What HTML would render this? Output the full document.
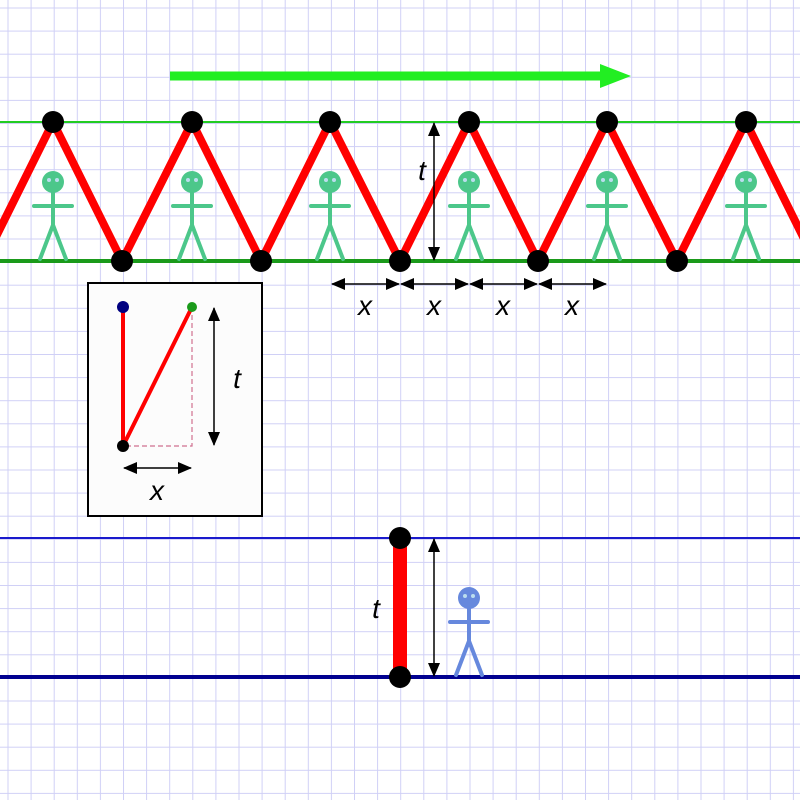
<!DOCTYPE html>
<html><head><style>body{margin:0}svg{display:block}</style></head><body>
<svg width="800" height="800" viewBox="0 0 800 800" xmlns="http://www.w3.org/2000/svg" font-family="Liberation Sans, sans-serif">
<defs>
<pattern id="g" x="7.5" y="7.5" width="23.1" height="23.1" patternUnits="userSpaceOnUse">
<path d="M0 0H23.1M0 0V23.1" stroke="#d0d0f6" stroke-width="2" fill="none"/>
</pattern>
<marker id="a" markerWidth="14" markerHeight="12" refX="13" refY="6" orient="auto-start-reverse" markerUnits="userSpaceOnUse"><path d="M0 0L14 6L0 12z" fill="#000"/></marker>
<g id="fig" stroke-width="4" stroke-linecap="round">
<circle cx="0" cy="-79" r="11" stroke="none"/>
<path d="M0 -70V-36M-19 -55H19M0 -36L-13 -2M0 -36L13 -2" fill="none"/>
<circle cx="-4" cy="-81" r="2" fill="#bde" stroke="none"/><circle cx="4" cy="-81" r="2" fill="#bde" stroke="none"/>
</g>
</defs>
<rect width="800" height="800" fill="#fff"/>
<rect width="800" height="800" fill="url(#g)"/>
<line x1="0" y1="122" x2="800" y2="122" stroke="#22cc22" stroke-width="2"/>
<line x1="0" y1="261" x2="800" y2="261" stroke="#1a9a1a" stroke-width="4"/>
<g fill="#4cc78a" stroke="#4cc78a">
<use href="#fig" x="53" y="261"/><use href="#fig" x="192" y="261"/><use href="#fig" x="330" y="261"/>
<use href="#fig" x="469" y="261"/><use href="#fig" x="607" y="261"/><use href="#fig" x="746" y="261"/>
</g>
<polyline points="-16,261 53,122 122,261 192,122 261,261 330,122 400,261 469,122 538,261 607,122 677,261 746,122 815,261" fill="none" stroke="#f00" stroke-width="8" stroke-linejoin="round"/>
<g fill="#000">
<circle cx="53" cy="122" r="11"/><circle cx="192" cy="122" r="11"/><circle cx="330" cy="122" r="11"/><circle cx="469" cy="122" r="11"/><circle cx="607" cy="122" r="11"/><circle cx="746" cy="122" r="11"/>
<circle cx="122" cy="261" r="11"/><circle cx="261" cy="261" r="11"/><circle cx="400" cy="261" r="11"/><circle cx="538" cy="261" r="11"/><circle cx="677" cy="261" r="11"/>
</g>
<line x1="170" y1="76" x2="605" y2="76" stroke="#22ee22" stroke-width="9"/>
<path d="M600 64L631 76L600 88z" fill="#22ee22"/>
<g stroke="#000" stroke-width="1.5" marker-start="url(#a)" marker-end="url(#a)">
<line x1="434" y1="123" x2="434" y2="260"/>
<line x1="332" y1="284" x2="399" y2="284"/><line x1="401" y1="284" x2="468" y2="284"/>
<line x1="470" y1="284" x2="537" y2="284"/><line x1="539" y1="284" x2="606" y2="284"/>
</g>
<g font-style="italic" font-size="28" text-anchor="middle">
<text x="422" y="180">t</text>
<text x="365" y="315">x</text><text x="434" y="315">x</text><text x="503" y="315">x</text><text x="572" y="315">x</text>
</g>
<rect x="88" y="283" width="174" height="233" fill="#fcfcfc" stroke="#000" stroke-width="2"/>
<path d="M192 307V446H123" fill="none" stroke="#d07090" stroke-width="1.2" stroke-dasharray="5,3"/>
<path d="M123 307V446L192 307" fill="none" stroke="#f00" stroke-width="4"/>
<circle cx="123" cy="307" r="6" fill="#000080"/><circle cx="192" cy="307" r="5" fill="#1a9a1a"/><circle cx="123" cy="446" r="6" fill="#000"/>
<g stroke="#000" stroke-width="1.5" marker-start="url(#a)" marker-end="url(#a)">
<line x1="214" y1="308" x2="214" y2="445"/><line x1="124" y1="468" x2="191" y2="468"/>
</g>
<g font-style="italic" font-size="28" text-anchor="middle">
<text x="237" y="388">t</text><text x="157" y="500">x</text><text x="376" y="618">t</text>
</g>
<line x1="0" y1="538" x2="800" y2="538" stroke="#1a1acc" stroke-width="2"/>
<line x1="0" y1="677" x2="800" y2="677" stroke="#000090" stroke-width="4"/>
<g fill="#6688dd" stroke="#6688dd"><use href="#fig" x="469" y="677"/></g>
<line x1="400" y1="538" x2="400" y2="677" stroke="#f00" stroke-width="14"/>
<circle cx="400" cy="538" r="11"/><circle cx="400" cy="677" r="11"/>
<line x1="434" y1="539" x2="434" y2="676" stroke="#000" stroke-width="1.5" marker-start="url(#a)" marker-end="url(#a)"/>
</svg>
</body></html>
